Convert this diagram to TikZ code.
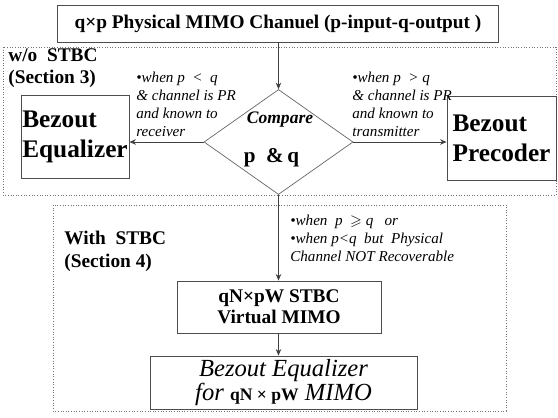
\documentclass[tikz,border=0pt]{standalone}
\usepackage{fontspec}
\setmainfont{Liberation Serif}
\usepackage{amssymb}
\usetikzlibrary{arrows.meta,shapes.geometric}
\tikzset{
  blk/.style={rectangle, draw=black!70, line width=0.5pt, inner sep=0pt, align=center},
  region/.style={draw=black!55, densely dotted, line width=0.5pt},         % dotted section frame
  note/.style={font=\fontsize{8.6}{10.2}\selectfont\itshape, align=left,
               anchor=north west, inner sep=0pt},
  sect/.style={font=\fontsize{11}{13}\selectfont\bfseries, align=left,
               anchor=north west, inner sep=0pt},
  arr/.style={draw=black!75, line width=0.5pt, -{Stealth[length=1.3mm, width=1.1mm]}},
}
\begin{document}
\begin{tikzpicture}[x=0.2mm, y=-0.2mm]
  \useasboundingbox (0,0) rectangle (558,418);
  % ---------------- frames ----------------
  \draw[region] (3,47) rectangle (556,195);
  \draw[region] (53,205) rectangle (506,411);
  % ---------------- w/o STBC ----------------
  \node[blk, minimum width=8.82cm, minimum height=0.74cm,
        font=\fontsize{11}{13}\selectfont\bfseries] (chan) at (278,23.5)
        {q×p Physical MIMO Chanuel (p-input-q-output )};
  \node[sect] (s3) at (8,48) {w/o\ \ STBC\\(Section 3)};
  \node[diamond, draw=black!60, line width=0.4pt, minimum width=2.98cm,
        minimum height=2.1cm, inner sep=0pt] (cmp) at (278.5,142) {};
  \node[font=\fontsize{10}{12}\selectfont\bfseries\itshape] (cmpt) at (280,120) {Compare};
  \node[font=\fontsize{12}{14}\selectfont\bfseries] (pq) at (271.5,158) {p\ \ \&\,q};
  \node[blk, align=left, minimum width=2.16cm, minimum height=1.66cm,
        font=\fontsize{14.4}{17}\selectfont\bfseries] (beq) at (75,136.5) {Bezout\\Equalizer};
  \node[blk, align=left, minimum width=2.18cm, minimum height=1.68cm,
        font=\fontsize{14.4}{17}\selectfont\bfseries] (bpre) at (501.5,138) {Bezout\\Precoder};
  \node[note] (nl) at (136,72) {\textbullet when p\ \ <\ \ q\\\& channel is PR\\and known to\\receiver};
  \node[note] (nr) at (352,72) {\textbullet when p\ \ >\ q\\\& channel is PR\\and known to\\transmitter};
  % ---------------- with STBC ----------------
  \node[sect] (s4) at (64,231) {With\ \ STBC\\(Section 4)};
  \node[note] (nd) at (290,215)
        {\textbullet when\ \ p\ \ $\geqslant$ q\ \ \ or\\\textbullet when p<q\ \ but\ \ Physical\\Channel NOT Recoverable};
  \node[blk, minimum width=4.08cm, minimum height=1.04cm,
        font=\fontsize{11}{12}\selectfont\bfseries] (stbc) at (279,307) {qN×pW STBC\\Virtual MIMO};
  \node[blk, minimum width=5.34cm, minimum height=1.06cm,
        font=\fontsize{14}{13.5}\selectfont\itshape] (beqv) at (283.5,382.5)
        {Bezout Equalizer\\for {\upshape\bfseries\fontsize{10}{13}\selectfont qN × pW} MIMO};
  % ---------------- arrows ----------------
  \draw[arr] (chan.south -| cmp.north) -- (cmp.north);
  \draw[arr] (cmp.west) -- (cmp.west -| beq.east);
  \draw[arr] (cmp.east) -- (cmp.east -| bpre.west);
  \draw[arr] (cmp.south) -- (cmp.south |- stbc.north);
  \draw[arr] (stbc.south -| cmp.south) -- (cmp.south |- beqv.north);
\end{tikzpicture}
\end{document}
